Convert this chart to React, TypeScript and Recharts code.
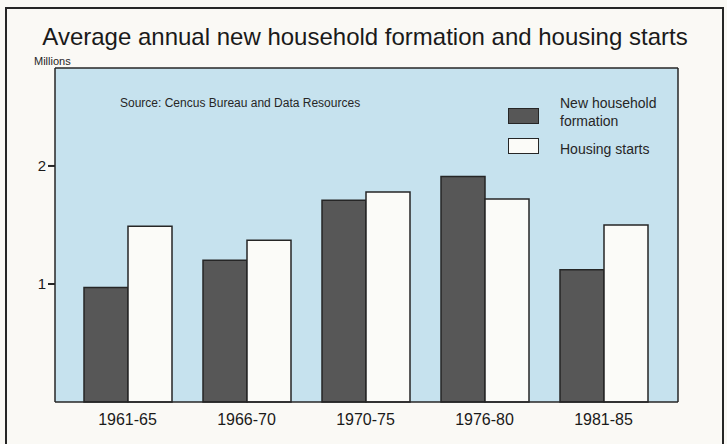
import React from 'react';
import { BarChart, Bar, XAxis, YAxis, CartesianGrid, Legend } from 'recharts';

// values (millions)
const periods = ['1961-65', '1966-70', '1970-75', '1976-80', '1981-85'];
const householdFormation = [0.97, 1.2, 1.71, 1.91, 1.12];
const housingStarts = [1.49, 1.37, 1.78, 1.72, 1.5];
const yTicks = [1, 2];
const seriesNames = ['New household formation', 'Housing starts'];

const FONT = '"Liberation Sans", Arial, Helvetica, sans-serif';
const INK = '#262626';
const DARK = '#575757';
const LIGHT = '#fbfbf8';
const SKY = '#c6e2ee';

const data = periods.map((p, i) => ({
  period: p,
  formation: householdFormation[i],
  starts: housingStarts[i],
}));

function LegendBox() {
  const fills = [DARK, LIGHT];
  return (
    <div style={{ fontFamily: FONT, fontSize: 14, color: INK, lineHeight: '18px' }}>
      {seriesNames.map((name, i) => (
        <div key={name} style={{ display: 'flex', alignItems: 'flex-start', marginTop: i === 0 ? 0 : 10 }}>
          <div
            style={{
              width: 29,
              height: 14,
              marginTop: i === 0 ? 14 : -2,
              marginRight: 21,
              background: fills[i],
              border: `1.5px solid ${INK}`,
            }}
          />
          <div style={{ width: 120 }}>{name}</div>
        </div>
      ))}
    </div>
  );
}

export default function App() {
  return (
    <div
      style={{
        position: 'fixed',
        left: 0,
        top: 0,
        width: 727,
        height: 444,
        background: '#faf9f5',
        overflow: 'hidden',
        fontFamily: FONT,
      }}
    >
      <div
        style={{
          position: 'absolute',
          left: 5,
          top: 7,
          width: 715,
          height: 460,
          border: `2px solid ${INK}`,
        }}
      />
      <div
        style={{
          position: 'absolute',
          left: 0,
          width: 730,
          top: 23,
          textAlign: 'center',
          fontSize: 24,
          lineHeight: '28px',
          color: '#1a1a1a',
        }}
      >
        Average annual new household formation and housing starts
      </div>
      <div style={{ position: 'absolute', left: 34, top: 54, fontSize: 11, lineHeight: '14px', color: INK }}>
        Millions
      </div>
      <div style={{ position: 'absolute', left: 120, top: 96, fontSize: 12, lineHeight: '14px', color: INK, zIndex: 2 }}>
        Source: Cencus Bureau and Data Resources
      </div>
      <div style={{ position: 'absolute', left: 0, top: 0 }}>
        <BarChart
          width={727}
          height={444}
          data={data}
          margin={{ top: 66, right: 0, bottom: 0, left: 0 }}
          barGap={0}
          barSize={44}
        >
          <CartesianGrid horizontal={false} vertical={false} fill={SKY} fillOpacity={1} />
          <XAxis
            dataKey="period"
            height={42}
            padding={{ left: 13, right: 15 }}
            tickLine={false}
            tickSize={0}
            tickMargin={12}
            axisLine={{ stroke: INK, strokeWidth: 1.5 }}
            tick={{ fontSize: 16, fill: '#1a1a1a', fontFamily: FONT }}
          />
          {/* top and right edges of the plot frame */}
          <XAxis
            xAxisId="top"
            dataKey="period"
            orientation="top"
            height={2}
            tick={false}
            tickLine={false}
            axisLine={{ stroke: INK, strokeWidth: 1.5 }}
          />
          <YAxis
            width={55}
            domain={[0, 2.83]}
            ticks={yTicks}
            tickSize={7}
            tickMargin={2}
            axisLine={{ stroke: INK, strokeWidth: 1.5 }}
            tickLine={{ stroke: INK, strokeWidth: 2 }}
            tick={{ fontSize: 15, fill: '#1a1a1a', fontFamily: FONT }}
          />
          <YAxis
            yAxisId="right"
            orientation="right"
            width={49}
            domain={[0, 2.83]}
            tick={false}
            tickLine={false}
            axisLine={{ stroke: INK, strokeWidth: 1.5 }}
          />
          <Legend
            layout="horizontal"
            verticalAlign="middle"
            align="center"
            wrapperStyle={{ left: 508, top: 94, width: 200 }}
            content={() => <LegendBox />}
          />
          <Bar dataKey="formation" name={seriesNames[0]} fill={DARK} stroke={INK} strokeWidth={1.5} isAnimationActive={false} />
          <Bar dataKey="starts" name={seriesNames[1]} fill={LIGHT} stroke={INK} strokeWidth={1.5} isAnimationActive={false} />
        </BarChart>
      </div>
    </div>
  );
}
